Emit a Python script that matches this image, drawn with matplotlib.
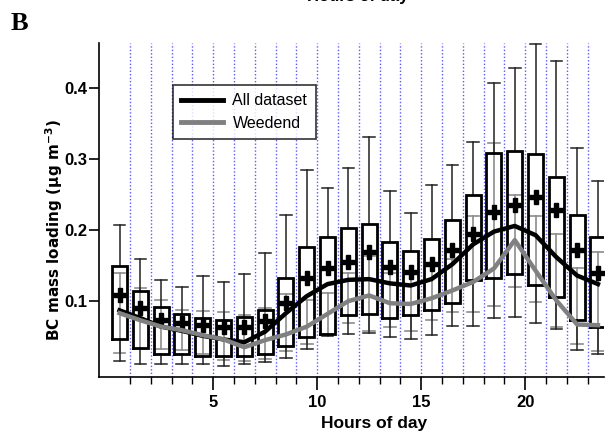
import numpy as np
import matplotlib
matplotlib.use('Agg')
import matplotlib.pyplot as plt
from matplotlib.lines import Line2D

plt.rcParams['font.family'] = ['Liberation Sans', 'DejaVu Sans']

# hour of day (box centres at h + 0.5)
hours = np.arange(24)

# All dataset: whisker low, box low, box high, whisker high, mean
all_wlo = [0.016, 0.011, 0.011, 0.012, 0.011, 0.009, 0.012, 0.014, 0.020, 0.033, 0.051, 0.054,
           0.055, 0.050, 0.047, 0.052, 0.065, 0.065, 0.076, 0.078, 0.069, 0.060, 0.031, 0.026]
all_q25 = [0.047, 0.034, 0.026, 0.026, 0.023, 0.022, 0.023, 0.026, 0.037, 0.049, 0.054, 0.080,
           0.082, 0.076, 0.080, 0.088, 0.098, 0.130, 0.132, 0.138, 0.123, 0.106, 0.073, 0.063]
all_q75 = [0.150, 0.114, 0.091, 0.082, 0.076, 0.074, 0.078, 0.088, 0.133, 0.176, 0.191, 0.203,
           0.209, 0.183, 0.170, 0.187, 0.215, 0.250, 0.309, 0.312, 0.308, 0.275, 0.222, 0.190]
all_whi = [0.207, 0.160, 0.130, 0.120, 0.135, 0.127, 0.138, 0.168, 0.222, 0.285, 0.260, 0.287,
           0.331, 0.255, 0.224, 0.264, 0.292, 0.324, 0.407, 0.428, 0.463, 0.438, 0.316, 0.270]
all_mean = [0.108, 0.090, 0.073, 0.069, 0.066, 0.064, 0.064, 0.072, 0.098, 0.132, 0.146, 0.155,
            0.169, 0.148, 0.141, 0.153, 0.172, 0.195, 0.226, 0.236, 0.247, 0.228, 0.172, 0.139]
all_line = [0.087, 0.076, 0.064, 0.058, 0.051, 0.046, 0.042, 0.057, 0.083, 0.107, 0.124, 0.130,
            0.131, 0.125, 0.122, 0.131, 0.152, 0.180, 0.198, 0.206, 0.193, 0.162, 0.136, 0.124]

# Weekend: whisker low / high and line
we_lo = [0.027, 0.033, 0.032, 0.031, 0.025, 0.017, 0.015, 0.019, 0.030, 0.040, 0.054, 0.069,
         0.058, 0.063, 0.058, 0.074, 0.084, 0.085, 0.093, 0.120, 0.099, 0.064, 0.040, 0.030]
we_hi = [0.140, 0.118, 0.101, 0.088, 0.086, 0.084, 0.080, 0.090, 0.110, 0.101, 0.111, 0.140,
         0.163, 0.140, 0.139, 0.150, 0.160, 0.220, 0.323, 0.250, 0.220, 0.194, 0.147, 0.169]
we_line = [0.083, 0.073, 0.064, 0.059, 0.052, 0.046, 0.035, 0.045, 0.053, 0.064, 0.082, 0.100,
           0.108, 0.097, 0.096, 0.104, 0.115, 0.127, 0.146, 0.186, 0.143, 0.101, 0.067, 0.066]

fig = plt.figure(figsize=(6.06, 4.34), dpi=100)
ax = fig.add_axes([0.164, 0.132, 0.833, 0.769])

xc = hours + 0.5

# dotted hour grid
for h in range(1, 24):
    ax.axvline(h, color='#5a5aff', linestyle=(0, (1, 1.5)), linewidth=1.0, zorder=0)

# weekend whiskers (grey)
cw = 0.28
for x, lo, hi in zip(xc, we_lo, we_hi):
    ax.plot([x, x], [lo, hi], color='#8c8c8c', lw=1.2, zorder=1)
    ax.plot([x - cw, x + cw], [lo, lo], color='#8c8c8c', lw=1.2, zorder=1)
    ax.plot([x - cw, x + cw], [hi, hi], color='#8c8c8c', lw=1.2, zorder=1)

# all dataset boxes
bw = 0.36
for x, wlo, q1, q3, whi in zip(xc, all_wlo, all_q25, all_q75, all_whi):
    ax.plot([x, x], [q3, whi], color='#222222', lw=1.1, zorder=2)
    ax.plot([x, x], [wlo, q1], color='#222222', lw=1.1, zorder=2)
    ax.plot([x - cw, x + cw], [whi, whi], color='#222222', lw=1.1, zorder=2)
    ax.plot([x - cw, x + cw], [wlo, wlo], color='#222222', lw=1.1, zorder=2)
    ax.plot([x - bw, x + bw, x + bw, x - bw, x - bw], [q1, q1, q3, q3, q1],
            color='black', lw=2.0, zorder=3, solid_joinstyle='miter')

ax.plot(xc, all_mean, linestyle='none', marker='P', markersize=9.5, color='black', zorder=4)

ax.plot(xc, all_line, color='black', lw=3.2, zorder=5)
ax.plot(xc, we_line, color='#808080', lw=3.2, zorder=5)

ax.set_xlim(-0.47, 23.8)
ax.set_ylim(-0.0066, 0.464)
ax.set_xticks([5, 10, 15, 20])
ax.set_xticks(np.arange(1, 24), minor=True)
ax.set_yticks([0.1, 0.2, 0.3, 0.4])
ax.tick_params(axis='x', which='major', direction='out', length=9.5, width=1.2,
               labelsize=12, pad=4)
ax.tick_params(axis='y', which='major', direction='out', length=7.5, width=1.2,
               labelsize=12, pad=1)
ax.tick_params(axis='x', which='minor', direction='out', length=5, width=1.0)
for lab in ax.get_xticklabels() + ax.get_yticklabels():
    lab.set_fontweight('bold')
for s in ['top', 'right']:
    ax.spines[s].set_visible(False)
ax.spines['left'].set_linewidth(1.2)
ax.spines['bottom'].set_linewidth(1.2)

ax.set_xlabel('Hours of day', fontsize=12.5, fontweight='bold', va='center')
ax.xaxis.set_label_coords(0.544, -0.139)
ax.set_ylabel('BC mass loading (\u00b5g m$^{\\mathbf{-3}}$)', fontsize=11,
              fontweight='bold', va='center', family='DejaVu Sans')
ax.yaxis.set_label_coords(-0.089, 0.44)

handles = [Line2D([], [], color='black', lw=3.5), Line2D([], [], color='#808080', lw=3.5)]
leg = ax.legend(handles, ['All dataset', 'Weedend'], loc='upper left',
                bbox_to_anchor=(0.145, 0.875), fontsize=11.5, frameon=True, fancybox=False,
                handlelength=2.6, borderpad=0.55, labelspacing=0.45, handletextpad=0.6,
                borderaxespad=0)
leg.get_frame().set_edgecolor('black')
leg.get_frame().set_linewidth(1.2)

fig.text(0.018, 0.945, 'B', fontsize=19, fontweight='bold', family='Liberation Serif',
         va='center', ha='left')
fig.text(0.59, 1 - 1 / 434, 'Hours of day', fontsize=12, fontweight='bold', ha='center',
         va='baseline')

fig.savefig('out.png', dpi=100)
